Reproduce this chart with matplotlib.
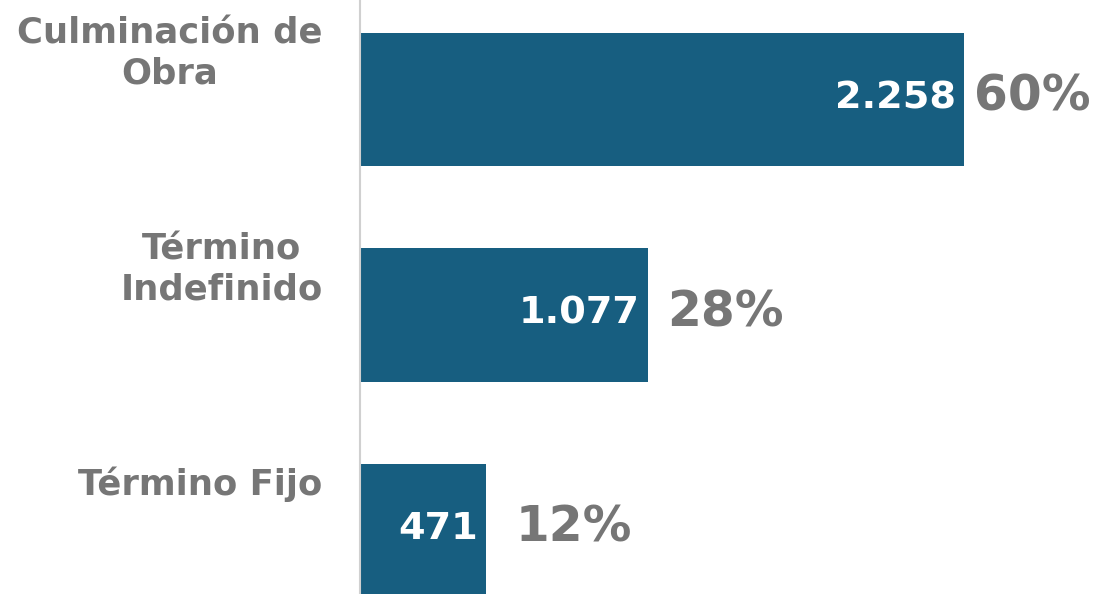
import matplotlib
matplotlib.use("Agg")
import matplotlib.pyplot as plt

categories = ["Culminación de\nObra", "Término\nIndefinido", "Término Fijo"]
values = [2258, 1077, 471]
value_labels = ["2.258", "1.077", "471"]
pct_labels = ["60%", "28%", "12%"]

bar_color = "#175e80"
gray = "#767676"

plt.rcParams['font.family'] = ['DejaVu Sans']

fig = plt.figure(figsize=(11.01, 5.94), dpi=100)
ax = fig.add_axes([360 / 1101, 0, 741 / 1101, 1])

y = list(range(len(values)))
ax.barh(y, values, height=0.62, color=bar_color, zorder=2)
ax.set_xlim(0, 2770)
ax.set_ylim(2.295, -0.462)

for s in ["top", "right", "bottom"]:
    ax.spines[s].set_visible(False)
ax.spines["left"].set_color("#d0d0d0")
ax.spines["left"].set_linewidth(1.5)
ax.set_xticks([])
ax.set_yticks([])

# percent offsets (points) from bar end
pct_off = [7, 14, 21]

for i, v in enumerate(values):
    ax.annotate(value_labels[i], xy=(v, i), xytext=(-6, 1), textcoords="offset points",
                ha="right", va="center", color="white", fontsize=27.5, fontweight="bold")
    ax.annotate(pct_labels[i], xy=(v, i), xytext=(pct_off[i], 2), textcoords="offset points",
                ha="left", va="center", color=gray, fontsize=35, fontweight="bold")
    ax.annotate(categories[i], xy=(0, i), xycoords=("axes fraction", "data"),
                xytext=(-27, 33), textcoords="offset points",
                ha="right", va="center", multialignment="center", linespacing=1.22,
                color=gray, fontsize=25.5, fontweight="bold", annotation_clip=False)

fig.savefig("out.png", dpi=100)
